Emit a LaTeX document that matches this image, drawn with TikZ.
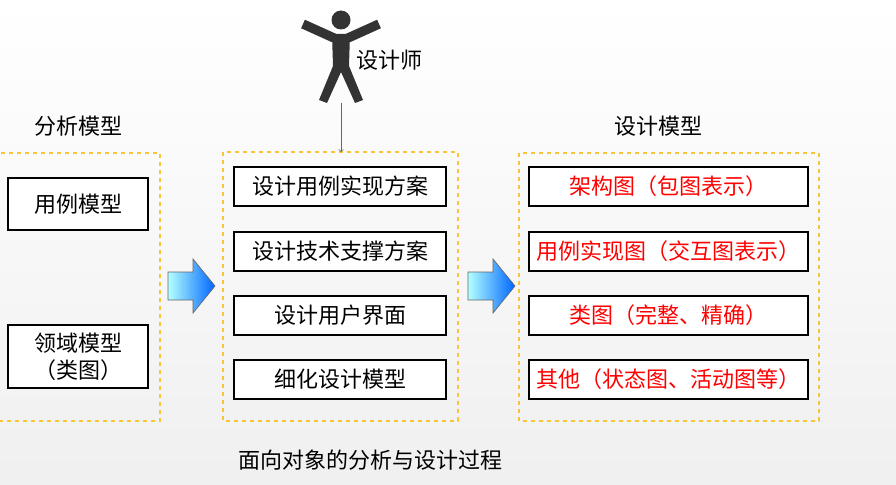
\documentclass[tikz,border=0pt]{standalone}
\usepackage{fontspec}
\setmainfont{Noto Sans CJK SC}
\definecolor{dbox}{HTML}{F8C537}
\definecolor{pers}{HTML}{333333}
\begin{document}
\begin{tikzpicture}[x=0.75pt,y=-0.75pt,
  dashbox/.style={draw=dbox,dashed,line width=0.9pt},
  bx/.style={draw=black,line width=0.9pt,fill=white},
  txt/.style={font=\fontsize{16.5}{20}\selectfont},
  bigarrow/.style={draw=black!60,line width=0.5pt,left color=cyan!30,right color=blue!60!cyan}]
\useasboundingbox (0,0) rectangle (896,485);
\shade[top color=white,bottom color=black!6] (0,0) rectangle (896,485);
% dashed boxes
\draw[dashbox] (-5,153) rectangle (160,421);
\draw[dashbox] (223,152) rectangle (458,421);
\draw[dashbox] (519,153) rectangle (819,421);
\node[txt] (t1) at (78,126) {分析模型};
\node[txt] (t2) at (658,126) {设计模型};
\node[txt] (t3) at (370,460) {面向对象的分析与设计过程};
% left boxes
\draw[bx] (8,178) rectangle (148,230);
\node[txt] (a1) at (78,204) {用例模型};
\draw[bx] (8,325) rectangle (148,388);
\node[txt,align=center] (a2) at (78,356.5) {领域模型\\（类图）};
% middle
\foreach \y/\t [count=\i] in {167/设计用例实现方案,232/设计技术支撑方案,296/设计用户界面,360/细化设计模型}{
  \draw[bx] (234,\y) rectangle (446,\y+39);
  \node[txt] (m\i) at (340,\y+19.5) {\t};
}
% right
\foreach \y/\t [count=\i] in {167/架构图（包图表示）,232/用例实现图（交互图表示）,296/类图（完整、精确）,360/其他（状态图、活动图等）}{
  \draw[bx] (529,\y) rectangle (808,\y+39);
  \node[txt,text=red] (r\i) at (668.5,\y+19.5) {\t};
}
% big arrows
\foreach \x in {168,468}{
  \draw[bigarrow] (\x,272) -- (\x+25,272) -- (\x+25,259) -- (\x+47,286) -- (\x+25,313) -- (\x+25,300) -- (\x,300) -- cycle;
}
% person
\fill[pers] (341,20) circle (9.5);
\draw[pers,line width=7pt,line cap=butt] (303,24) -- (334,38);
\draw[pers,line width=7pt,line cap=butt] (379,24) -- (348,38);
\fill[pers] (332,34) -- (350,34) -- (349,66) -- (363,100) -- (355,103) -- (341,72) -- (327,103) -- (319,100) -- (333,66) -- cycle;
\coordinate (feet) at (341,103);
\node[txt,anchor=west] (dl) at (352,60) {设计师};
\draw[black!60,->,line width=0.5pt] (feet) -- (341,152);
\end{tikzpicture}
\end{document}
